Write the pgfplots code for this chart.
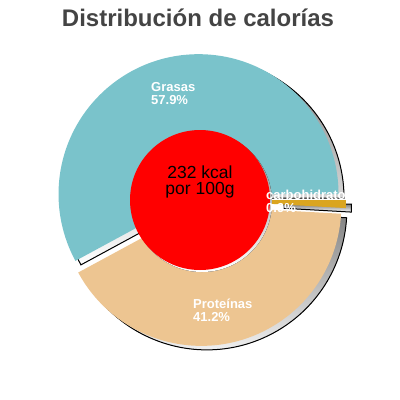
\documentclass[border=0pt]{standalone}
\usepackage{pgfplots}
\pgfplotsset{compat=1.18}
\usepackage{fontspec}
\setmainfont{Liberation Sans}
\definecolor{grasas}{RGB}{122,195,203}
\definecolor{prot}{RGB}{237,197,145}
\definecolor{carb}{RGB}{218,165,32}
\definecolor{shade}{RGB}{96,96,96}
\definecolor{titlegray}{RGB}{68,68,68}

% values (percent of calories)
\def\vG{57.9}
\def\vP{41.2}
\def\vC{0.9}

% slice shadow: start angle, end angle, colour, explode direction, inner radius
\newcommand\slice[5]{%
  \filldraw[shade, line width=1pt, shift={(#4:6pt)}, xshift=5.5pt, yshift=-4pt]
    (axis cs:200,200) ++(#1:#5pt) -- ++(#1:140pt-#5pt)
    arc[start angle=#1, end angle=#2, radius=140pt] -- ++(#2:#5pt-140pt) -- cycle;%
}
\newcommand\slicefill[5]{%
  \fill[#3, shift={(#4:6pt)}]
    (axis cs:200,200) ++(#1:#5pt) -- ++(#1:140pt-#5pt)
    arc[start angle=#1, end angle=#2, radius=140pt] -- ++(#2:#5pt-140pt) -- cycle;%
}

\begin{document}
\begin{tikzpicture}
\pgfmathsetmacro\aG{0}
\pgfmathsetmacro\bG{\aG+3.6*\vG}
\pgfmathsetmacro\bP{\bG+3.6*\vP}
\pgfmathsetmacro\bC{\bP+3.6*\vC}
\pgfmathsetmacro\mG{(\aG+\bG)/2}
\pgfmathsetmacro\mP{(\bG+\bP)/2}
\pgfmathsetmacro\mC{(\bP+\bC)/2}
\begin{axis}[x=1pt, y=1pt, xmin=0, xmax=400, ymin=0, ymax=400, y dir=reverse,
  hide axis, clip=false, scale only axis]
% shadows
\slice{\aG}{\bG}{grasas}{\mG}{0}
\slice{\bG}{\bP}{prot}{\mP}{0}
% slices
\slicefill{\aG}{\bG}{grasas}{\mG}{0}
\slicefill{\bG}{\bP}{prot}{\mP}{0}
\slice{\bP}{\bC}{carb}{\mC}{72}
\slicefill{\bP}{\bC}{carb}{\mC}{66}
% centre disc
\fill[shade] (axis cs:202,202) circle[radius=70pt];
\fill[red] (axis cs:200,200) circle[radius=70pt];
% labels
\begin{scope}[every node/.style={text=white, font=\fontsize{13}{13}\selectfont\bfseries, inner sep=0pt, anchor=base west}]
\node at (axis cs:151,91) {Grasas};
\node at (axis cs:151,104) {57.9\%};
\node at (axis cs:193,308) {Proteínas};
\node at (axis cs:193,321) {41.2\%};
\begin{scope}
\clip (axis cs:0,0) rectangle (axis cs:344,400);
\node at (axis cs:266,199) {carbohidratos};
\end{scope}
\node at (axis cs:266,212) {0.9\%};
\end{scope}
% centre text
\node[font=\fontsize{17.5}{16.5}\selectfont, align=center, anchor=base, inner sep=0pt]
  at (axis cs:200,194.5) {232 kcal\\por 100g};
% title
\node[font=\fontsize{24}{24}\selectfont\bfseries, text=titlegray, anchor=base, inner sep=0pt]
  at (axis cs:198,26) {Distribución de calorías};
\end{axis}
\pgfresetboundingbox
\useasboundingbox (0,0) rectangle (400pt,400pt);
\end{tikzpicture}
\end{document}
